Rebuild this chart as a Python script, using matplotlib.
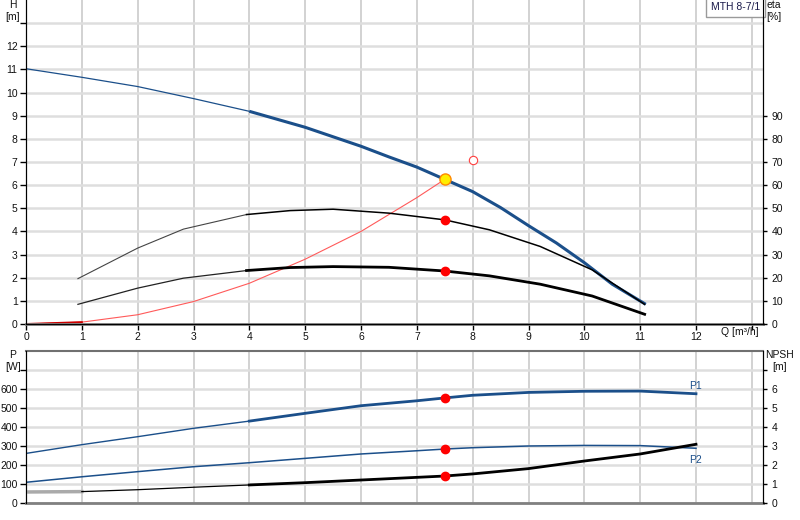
import numpy as np
import matplotlib
matplotlib.use("Agg")
import matplotlib.pyplot as plt

plt.rcParams['font.family'] = ['Liberation Sans', 'DejaVu Sans']
plt.rcParams['font.size'] = 7.5

# --- data ---
q_h = [0, 1, 2, 3, 4, 5, 6, 6.5, 7, 7.5, 8, 8.5, 9, 9.5, 10, 10.5, 11.1]
head = [11.03, 10.66, 10.26, 9.74, 9.19, 8.5, 7.68, 7.22, 6.78, 6.25, 5.72, 5.03, 4.25,
        3.5, 2.65, 1.72, 0.85]

q_eta = [0.93, 2.0, 2.82, 3.95, 4.73, 5.5, 6.5, 7.5, 8.3, 9.21, 10.14, 11.08]
eta_pump = [19.6, 32.8, 41.0, 47.3, 49.0, 49.6, 47.9, 45.0, 40.7, 33.5, 23.4, 8.5]
eta_total = [8.5, 15.5, 19.8, 23.1, 24.4, 24.8, 24.5, 22.9, 20.8, 17.2, 12.1, 4.2]

q_sys = [0, 1, 2, 3, 4, 5, 6, 7, 7.5]
h_sys = [0, 0.08, 0.4, 0.97, 1.76, 2.8, 4.0, 5.46, 6.25]

q_p = [0, 1, 2, 3, 4, 5, 6, 7, 7.5, 8, 9, 10, 11, 12]
p1 = [261, 307, 349, 393, 431, 472, 512, 538, 553, 567, 582, 588, 589, 575]
p2 = [109, 138, 165, 191, 212, 235, 258, 275, 284, 291, 300, 303, 302, 288]
npsh = [0.58, 0.6, 0.70, 0.83, 0.95, 1.07, 1.21, 1.35, 1.42, 1.53, 1.81, 2.21, 2.58, 3.09]

duty_q = 7.5
duty_h = 6.25
req_q, req_h = 8.0, 7.1
duty_eta = [45.0, 22.9]
duty_p = [553, 284]
duty_npsh = 1.42

blue = '#1b4f8a'
vgrid = '#cbcbcb'
hgrid = '#dedede'


def part(x, y, lo, hi):
    x = np.asarray(x, float)
    y = np.asarray(y, float)
    m = (x >= lo) & (x <= hi)
    return x[m], y[m]


fig = plt.figure(figsize=(8, 5.2), dpi=100)
W, H = 800.0, 520.0
ax = fig.add_axes([26 / W, 1 - 324 / H, 737 / W, 324 / H])
ax2 = ax.twinx()
bx = fig.add_axes([26 / W, 1 - 503 / H, 737 / W, 152 / H])
bx2 = bx.twinx()

# --- top panel ---
ax.set_xlim(0, 13.2)
ax.set_ylim(0, 14)
ax2.set_ylim(0, 140)
ax.set_xticks(range(0, 14))
ax.set_xticklabels([str(i) for i in range(13)] + [''])
ax.set_yticks(range(0, 14))
ax.set_yticklabels([str(i) for i in range(13)] + [''])
ax2.set_yticks(range(0, 100, 10))
ax.set_axisbelow(True)
ax.xaxis.grid(True, color=vgrid, lw=1.2)
ax.yaxis.grid(True, color=hgrid, lw=1.8)

x, y = part(q_h, head, 0, 4)
ax.plot(x, y, color=blue, lw=0.9)
x, y = part(q_h, head, 4, 12)
ax.plot(x, y, color=blue, lw=2.2, solid_capstyle='butt')

x, y = part(q_sys, h_sys, 0, 1)
ax.plot(q_sys, h_sys, color='#ff5a5a', lw=0.8)
ax.plot(x, y, color='#cc0000', lw=1.4)

x, y = part(q_eta, eta_pump, 0, 4)
ax2.plot(x, y, color='#444444', lw=0.8)
x, y = part(q_eta, eta_pump, 3.95, 12)
ax2.plot(x, y, color='black', lw=1.1)
x, y = part(q_eta, eta_total, 0, 4)
ax2.plot(x, y, color='#222222', lw=0.9)
x, y = part(q_eta, eta_total, 3.95, 12)
ax2.plot(x, y, color='black', lw=2.0)

ax2.plot([duty_q] * 2, duty_eta, 'o', color='#ff0000', ms=6, mec='#ff0000')
ax2.plot([req_q], [req_h * 10], 'o', mfc='white', mec='#ff4040', ms=6, mew=0.8)
ax2.plot([duty_q], [duty_h * 10], 'o', mfc='#ffee00', mec='#ff8800', ms=8, mew=1.0)

for s in ['top']:
    ax.spines[s].set_visible(False)
    ax2.spines[s].set_visible(False)
ax.spines['bottom'].set_color('#808080')
ax.spines['bottom'].set_linewidth(2)
ax.spines['left'].set_color('black')
ax2.spines['right'].set_color('black')
ax.tick_params(axis='both', direction='out', length=4, width=1, pad=2, colors='black',
               labelcolor='#111111')
ax2.tick_params(axis='y', direction='out', length=3, width=1, pad=3, labelcolor='#111111')

ax.text(12.78, -0.36, 'Q [m³/h]', ha='center', va='center', clip_on=False, color='#111111')
fig.text(13 / W, 1 - 11 / H, 'H\n[m]', ha='center', va='center', linespacing=1.15, color='#111111')
fig.text(774 / W, 1 - 11 / H, 'eta\n[%]', ha='center', va='center', linespacing=1.15, color='#111111')
ax.text(0.996, 0.994, 'MTH 8-7/1', transform=ax.transAxes, ha='right', va='top', color='#1a1a4a',
        bbox=dict(boxstyle='square,pad=0.45', fc='white', ec='#9a9a9a', lw=1))

# --- bottom panel ---
bx.set_xlim(0, 13.2)
bx.set_ylim(0, 800)
bx2.set_ylim(0, 8)
bx.set_xticks(range(0, 14))
bx.set_yticks(range(0, 800, 100))
bx.set_yticklabels([str(i) for i in range(0, 700, 100)] + [''])
bx2.set_yticks(range(0, 8))
bx2.set_yticklabels([str(i) for i in range(7)] + [''])
bx.set_axisbelow(True)
bx.xaxis.grid(True, color=vgrid, lw=1.2)
bx.yaxis.grid(True, color=hgrid, lw=1.8)
bx.tick_params(axis='x', length=0, labelbottom=False)
bx.tick_params(axis='y', direction='out', length=4, width=1, pad=2, labelcolor='#111111')
bx2.tick_params(axis='y', direction='out', length=3, width=1, pad=3, labelcolor='#111111')

x, y = part(q_p, p1, 0, 4)
bx.plot(x, y, color=blue, lw=1.0)
x, y = part(q_p, p1, 4, 12)
bx.plot(x, y, color=blue, lw=2.0)
bx.plot(q_p, p2, color=blue, lw=1.1)

x, y = part(q_p, npsh, 0, 1)
bx2.plot(x, y, color='#aaaaaa', lw=2.5)
x, y = part(q_p, npsh, 1, 4)
bx2.plot(x, y, color='black', lw=0.9)
x, y = part(q_p, npsh, 4, 12)
bx2.plot(x, y, color='black', lw=2.0)

bx.plot([duty_q] * 2, duty_p, 'o', color='#ff0000', ms=6)
bx2.plot([duty_q], [duty_npsh], 'o', color='#ff0000', ms=6)

bx.text(q_p[-1], p1[-1] + 40, 'P1', color=blue, ha='center', va='center')
bx.text(q_p[-1], p2[-1] - 60, 'P2', color=blue, ha='center', va='center')

bx.spines['top'].set_color('#707070')
bx.spines['top'].set_linewidth(1.5)
bx2.spines['top'].set_visible(False)
bx.spines['bottom'].set_color('#808080')
bx.spines['bottom'].set_linewidth(2)
bx2.spines['bottom'].set_visible(False)

fig.text(13 / W, 1 - 361 / H, 'P\n[W]', ha='center', va='center', linespacing=1.15, color='#111111')
fig.text(780 / W, 1 - 361 / H, 'NPSH\n[m]', ha='center', va='center', linespacing=1.15, color='#111111')

fig.savefig('out.png', dpi=100)
